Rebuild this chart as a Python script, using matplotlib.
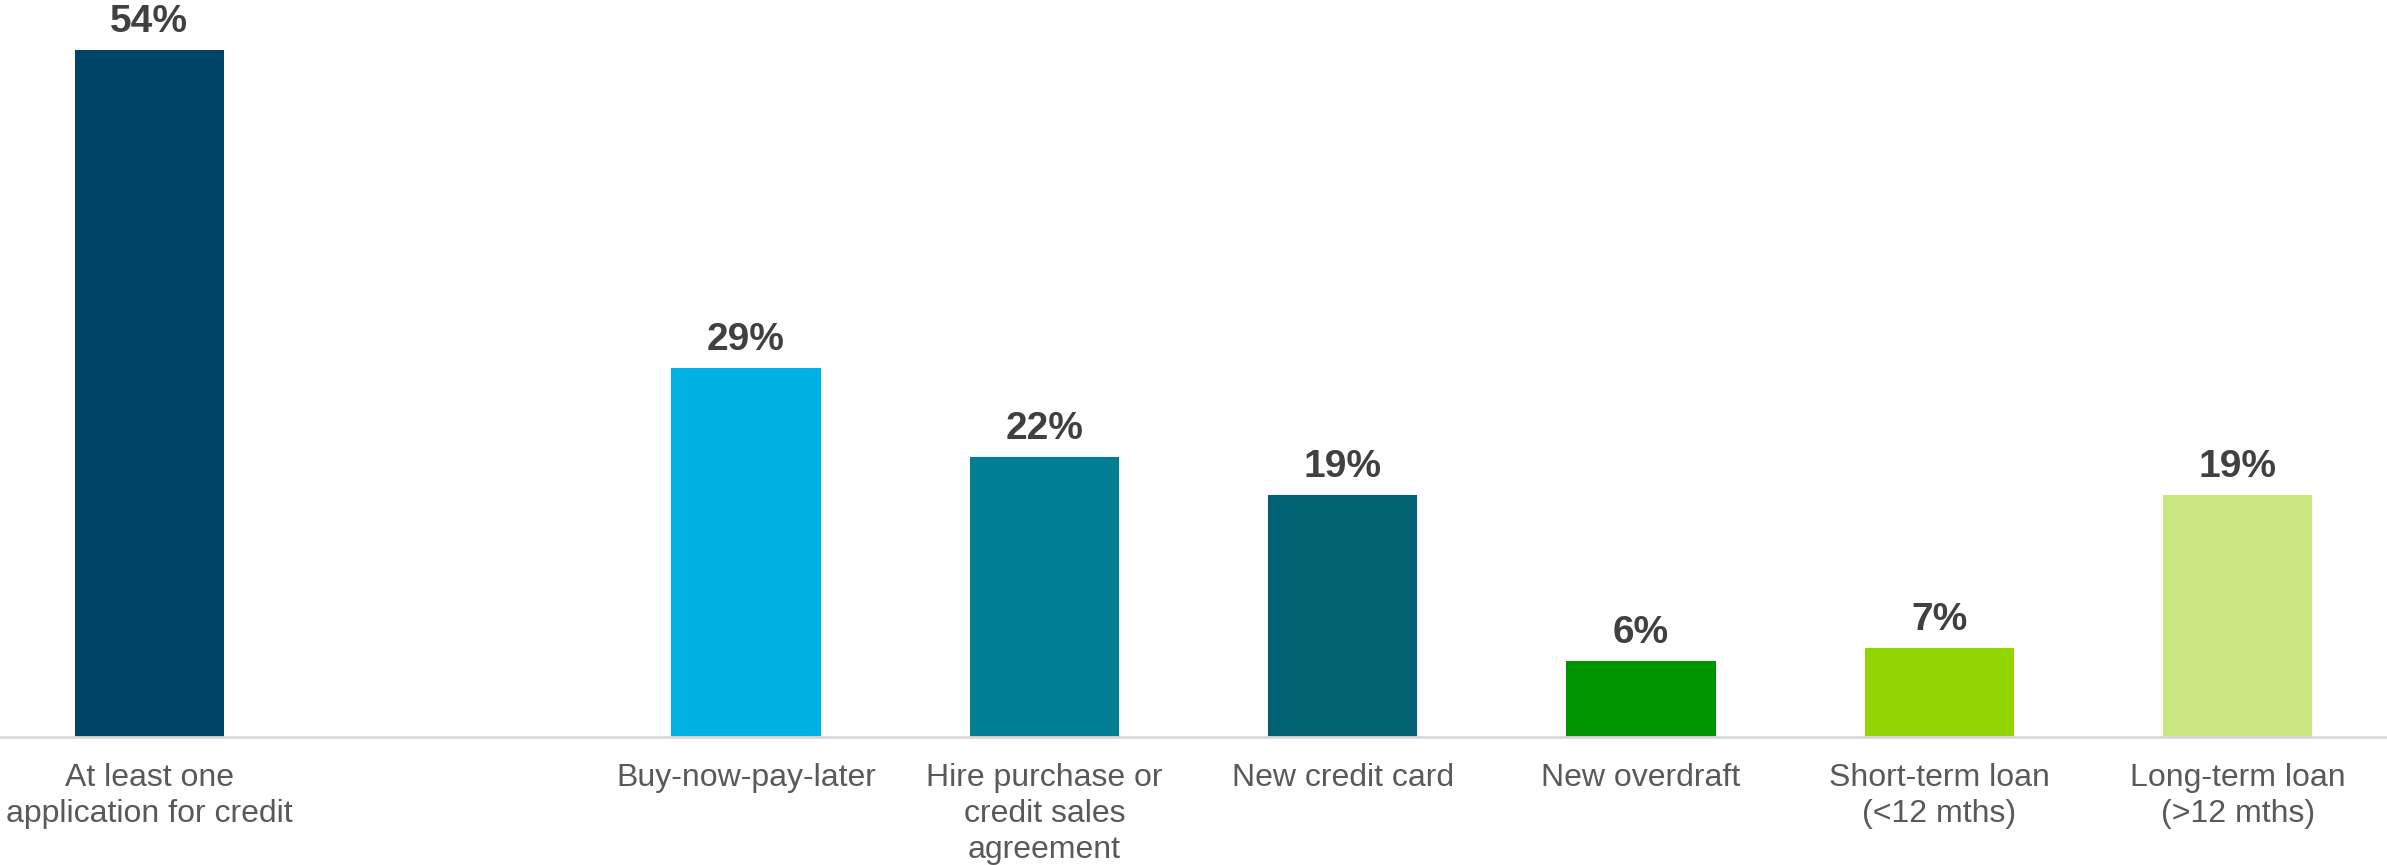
import matplotlib
matplotlib.use("Agg")
import matplotlib.pyplot as plt

plt.rcParams["font.family"] = ["Liberation Sans", "DejaVu Sans"]

# slot positions; slot 1 is left empty as a spacer after the headline bar
positions = [0, 2, 3, 4, 5, 6, 7]
categories = [
    "At least one\napplication for credit",
    "Buy-now-pay-later",
    "Hire purchase or\ncredit sales\nagreement",
    "New credit card",
    "New overdraft",
    "Short-term loan\n(<12 mths)",
    "Long-term loan\n(>12 mths)",
]
values = [54, 29, 22, 19, 6, 7, 19]
colors = ["#00446A", "#00B1E3", "#007E93", "#006272", "#009400", "#93D500", "#C9E882"]

fig = plt.figure(figsize=(23.87, 8.65), dpi=100)
ax = fig.add_axes([0, 0.148, 1, 0.852])

bars = ax.bar(positions, values, width=0.5, color=colors, zorder=2)
for b, v in zip(bars, values):
    ax.annotate(f"{v}%", (b.get_x() + b.get_width() / 2, v), xytext=(0, 7),
                textcoords="offset points", ha="center", va="bottom",
                fontsize=28, fontweight="bold", color="#404040")

ax.set_xlim(-0.5, 7.5)
ax.set_ylim(0, 57.9)
ax.set_xticks(positions)
ax.set_xticklabels(categories, fontsize=23, color="#595959", linespacing=1.25)
ax.tick_params(axis="x", length=0, pad=19)
ax.set_yticks([])
for side in ["top", "right", "left"]:
    ax.spines[side].set_visible(False)
ax.spines["bottom"].set_color("#d9d9d9")
ax.spines["bottom"].set_linewidth(2)

fig.savefig("out.png", dpi=100, facecolor="white")
